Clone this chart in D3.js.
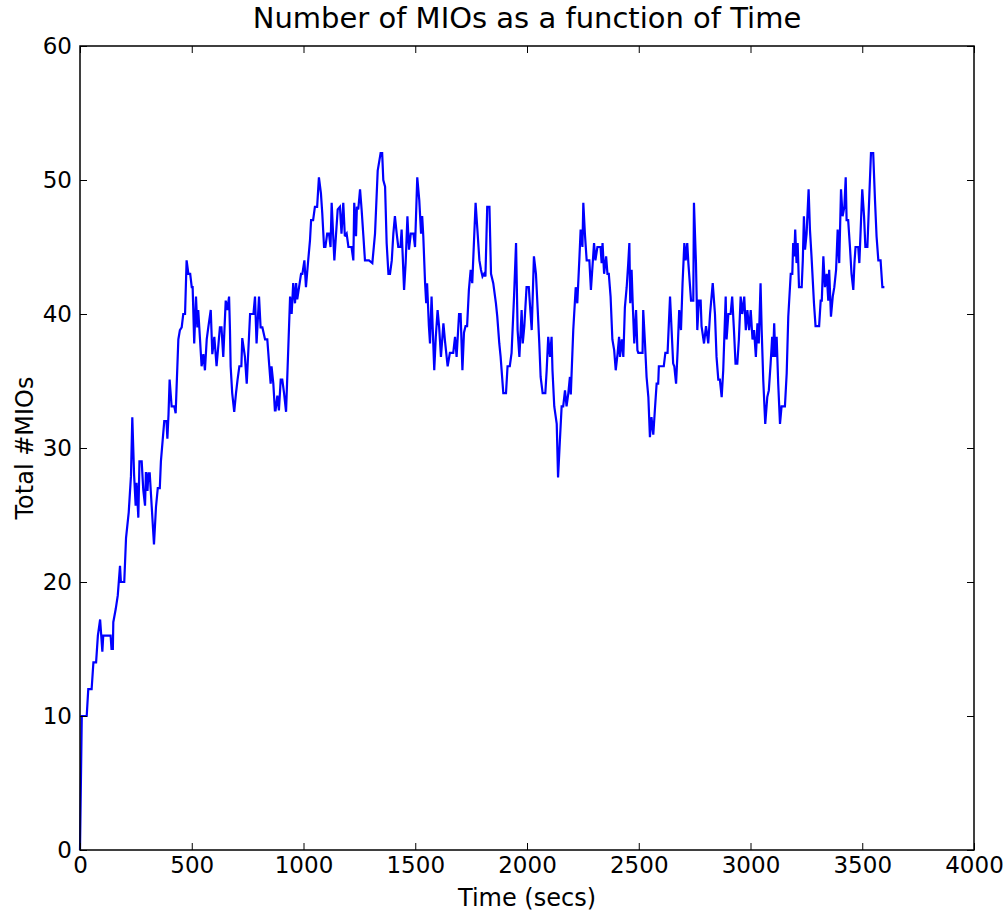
<!DOCTYPE html>
<html>
<head>
<meta charset="utf-8">
<script src="https://cdn.jsdelivr.net/npm/d3@7"></script>
<style>
  html, body { margin: 0; padding: 0; background: #fff; }
  svg { display: block; }
  text { font-family: "DejaVu Sans", Verdana, sans-serif; fill: #000; }
</style>
</head>
<body>
<svg id="chart" width="1008" height="913"></svg>
<script>
// Elapsed time of each sample, in seconds
const times = [
  0, 8, 30, 37, 52, 60, 72, 80, 90, 100, 104, 137, 141, 147, 149, 160, 169, 179, 183, 198,
  206, 218, 228, 234, 242, 249, 253, 261, 266, 276, 283, 291, 295, 302, 306, 312, 321, 331, 340, 348,
  357, 362, 370, 377, 387, 391, 396, 401, 410, 422, 428, 440, 447, 455, 462, 470, 477, 485, 493, 500,
  504, 511, 519, 525, 529, 537, 544, 552, 559, 567, 574, 585, 592, 601, 611, 626, 633, 641, 652, 659,
  667, 671, 674, 681, 690, 698, 705, 713, 722, 726, 738, 746, 761, 776, 783, 790, 801, 808, 816, 828,
  838, 847, 853, 857, 865, 872, 875, 883, 890, 898, 905, 913, 922, 940, 947, 954, 962, 967, 972, 981,
  989, 995, 1004, 1011, 1021, 1029, 1034, 1043, 1051, 1061, 1069, 1078, 1084, 1092, 1098, 1106, 1114, 1121, 1126, 1138,
  1145, 1153, 1163, 1170, 1178, 1185, 1193, 1201, 1215, 1223, 1227, 1235, 1239, 1245, 1253, 1260, 1268, 1275, 1293, 1308,
  1320, 1332, 1340, 1345, 1352, 1357, 1365, 1372, 1380, 1387, 1395, 1402, 1409, 1417, 1424, 1434, 1439, 1444, 1450, 1457,
  1465, 1472, 1480, 1492, 1499, 1509, 1518, 1526, 1531, 1536, 1544, 1549, 1553, 1561, 1566, 1573, 1578, 1585, 1592, 1600,
  1607, 1615, 1626, 1633, 1645, 1655, 1670, 1678, 1685, 1696, 1703, 1711, 1718, 1725, 1732, 1740, 1748, 1755, 1770, 1778,
  1787, 1794, 1801, 1808, 1814, 1822, 1832, 1839, 1849, 1861, 1867, 1876, 1882, 1894, 1906, 1913, 1923, 1931, 1942, 1951,
  1958, 1966, 1976, 1981, 1988, 1998, 2008, 2021, 2031, 2040, 2048, 2055, 2061, 2070, 2082, 2088, 2095, 2103, 2110, 2114,
  2122, 2133, 2139, 2147, 2155, 2162, 2170, 2177, 2185, 2192, 2196, 2207, 2218, 2225, 2234, 2240, 2248, 2252, 2259, 2267,
  2279, 2286, 2300, 2306, 2315, 2329, 2334, 2338, 2345, 2354, 2360, 2366, 2374, 2382, 2390, 2397, 2405, 2412, 2416, 2424,
  2431, 2438, 2446, 2453, 2458, 2462, 2468, 2473, 2480, 2488, 2494, 2498, 2517, 2520, 2528, 2535, 2543, 2550, 2557, 2565,
  2572, 2580, 2587, 2590, 2612, 2619, 2629, 2640, 2647, 2654, 2659, 2667, 2674, 2681, 2689, 2696, 2704, 2710, 2717, 2722,
  2734, 2744, 2747, 2756, 2762, 2769, 2777, 2781, 2792, 2801, 2811, 2819, 2831, 2841, 2848, 2856, 2863, 2871, 2878, 2889,
  2893, 2901, 2911, 2918, 2926, 2933, 2941, 2948, 2956, 2963, 2972, 2979, 2986, 2994, 3001, 3009, 3016, 3024, 3031, 3037,
  3045, 3050, 3057, 3066, 3075, 3082, 3090, 3097, 3101, 3106, 3111, 3117, 3124, 3132, 3139, 3154, 3162, 3169, 3180, 3187,
  3191, 3196, 3200, 3206, 3211, 3217, 3229, 3234, 3239, 3244, 3251, 3260, 3266, 3273, 3284, 3291, 3307, 3314, 3319, 3326,
  3333, 3341, 3348, 3352, 3360, 3368, 3375, 3383, 3390, 3397, 3405, 3412, 3420, 3426, 3430, 3437, 3445, 3452, 3460, 3465,
  3470, 3482, 3487, 3493, 3500, 3508, 3514, 3523, 3532, 3539, 3549, 3557, 3564, 3572, 3582, 3590, 3599
];

// Total number of MIOs at each sample
const mioCounts = [
  0, 10, 10, 12, 12, 14, 14, 16, 17.2, 14.8, 16, 16, 15, 15, 17, 18, 19, 21.2, 20, 20,
  23.3, 25.2, 27.9, 32.3, 28, 25.7, 27.4, 24.8, 29, 29, 26.9, 25.7, 28.2, 26.8, 28.1, 28.1, 25.6, 22.8, 25.6, 27,
  27, 29, 30.6, 32, 32, 30.7, 32.5, 35.1, 33.1, 33.1, 32.6, 38.1, 38.8, 39, 40, 40, 44, 43, 43, 42,
  42, 37.8, 41.3, 39, 40.3, 38.1, 36.1, 37, 35.8, 38.1, 39, 40.3, 37, 38.3, 36.1, 39, 39, 36.8, 41, 40.3,
  41.3, 38.8, 36.1, 34.1, 32.7, 34.1, 35.1, 36.1, 36.1, 38.2, 36.8, 34.8, 40, 40, 41.3, 37.8, 41.3, 39, 39, 38.1,
  38.1, 36.1, 34.8, 36.1, 34.8, 32.8, 32.8, 33.9, 32.8, 35.1, 35.1, 34.1, 32.7, 41.3, 40, 42.3, 40.8, 42.3, 41.1, 42.1,
  43, 43, 44, 42, 44, 45.5, 47, 47, 48, 48, 50.2, 49, 47.5, 45, 45, 46, 46, 45, 48.3, 44,
  45.8, 47.8, 48, 46, 48.3, 45.8, 46, 45, 45, 44, 48.3, 45.8, 48, 47.8, 49.3, 47.8, 45.8, 44, 44, 43.8,
  46, 50.7, 51.5, 52, 52, 50, 49.5, 45.3, 43, 43, 44, 46, 47.3, 46, 45, 45, 46.3, 44.3, 41.8, 43.8,
  47.3, 44.8, 46, 46, 45, 50.2, 48.5, 46, 47.3, 45.8, 42.3, 40.8, 42.3, 39.1, 37.8, 41.3, 39, 35.8, 38.3, 40.3,
  39, 36.8, 39.3, 38, 36.1, 37.1, 37.1, 38.3, 36.8, 40, 40, 35.8, 38.6, 39.1, 39.1, 41.8, 43.3, 42.3, 48.3, 46.3,
  44, 43.3, 42.8, 43, 42.8, 48, 48, 43, 42.3, 40.8, 39.8, 37.8, 36.8, 34.1, 34.1, 36.1, 36.1, 37.1, 41.3, 45.3,
  38.8, 36.8, 40.3, 37.8, 39.1, 42, 42, 38.8, 44.3, 43, 40.3, 37.8, 35.3, 34.1, 34.1, 35.8, 38.3, 36.8, 38.3, 35.8,
  33.1, 31.8, 27.8, 30.5, 33.1, 33.1, 34.3, 33.1, 34.1, 35.3, 34, 38.8, 42, 40.8, 44, 46.3, 45, 48.3, 46, 44,
  44, 41.8, 45.3, 44, 45, 45, 43.8, 45.3, 43, 44.3, 43, 43, 41.3, 38.1, 37.3, 35.8, 37, 38.3, 36.8, 38.1,
  36.8, 40.5, 42, 43.8, 45.3, 40.8, 43.3, 40.8, 37.8, 40.3, 37.3, 37.1, 37.1, 40.3, 37.8, 35.3, 33.8, 30.8, 32.3, 31,
  32.8, 34.8, 34.8, 36.1, 36.1, 37.1, 37.1, 41.3, 38.8, 36.3, 36.1, 34.8, 37.3, 40.3, 38.8, 42.3, 45.3, 44, 45.3, 43.8,
  41, 41, 48.3, 43.8, 38.8, 41, 41, 39.1, 37.8, 39.1, 37.8, 40, 42.3, 40, 36.8, 35.1, 35.1, 33.8, 35.8, 41.3,
  38.1, 40, 40, 41.3, 38.8, 36.3, 36.3, 38.1, 41.3, 40, 41.3, 38.8, 40.3, 38.8, 40.3, 38.1, 38.8, 36.8, 39.3, 37.8,
  42.3, 38.8, 35.1, 31.8, 33.8, 34.3, 36.3, 38.3, 36.8, 39.3, 36.8, 38.3, 34.8, 31.8, 33.1, 33.1, 35.6, 39.8, 43, 43,
  45.3, 44.3, 46.3, 43.8, 45.3, 42, 42, 44, 47.3, 44.8, 46, 49.3, 46.3, 44.3, 40.8, 39.1, 39.1, 41, 41, 44.3,
  42, 43, 41, 43.3, 39.8, 41.3, 42, 43.3, 46.3, 43.8, 49.3, 47.3, 48, 50.2, 47, 47, 45, 43, 41.8, 43.8,
  45, 45, 43.8, 46.3, 49.3, 47.3, 45, 45, 49, 52, 52, 48.5, 45.8, 44, 44, 42, 42
];

const xTickValues = [0, 500, 1000, 1500, 2000, 2500, 3000, 3500, 4000];
const yTickValues = [0, 10, 20, 30, 40, 50, 60];

const chartTitle = "Number of MIOs as a function of Time";
const xAxisLabel = "Time (secs)";
const yAxisLabel = "Total #MIOs";

const svg = d3.select("#chart");
const margin = { left: 80, right: 34, top: 46, bottom: 63 };
const W = 1008, H = 913;
const plotW = W - margin.left - margin.right;
const plotH = H - margin.top - margin.bottom;

const x = d3.scaleLinear().domain([0, 4000]).range([margin.left, margin.left + plotW]);
const y = d3.scaleLinear().domain([0, 60]).range([margin.top + plotH, margin.top]);

const tickLen = 7;

// Data line
const series = times.map((t, i) => [t, mioCounts[i]]);
const line = d3.line().x(d => x(d[0])).y(d => y(d[1]));

svg.append("path")
  .datum(series)
  .attr("d", line)
  .attr("fill", "none")
  .attr("stroke", "#0000ff")
  .attr("stroke-width", 2.2)
  .attr("stroke-linejoin", "miter")
  .attr("stroke-miterlimit", 3);

// Axes with inward ticks on all four sides
function styleAxis(g) {
  g.select(".domain").remove();
  g.selectAll(".tick line").attr("stroke", "#000").attr("stroke-width", 1);
  g.selectAll(".tick text").attr("fill", "#000");
}

const bottomAxis = svg.append("g")
  .attr("transform", `translate(0,${y(0)})`)
  .call(d3.axisBottom(x).tickValues(xTickValues).tickFormat(d3.format("d"))
    .tickSizeInner(-tickLen).tickSizeOuter(0).tickPadding(7));
styleAxis(bottomAxis);
bottomAxis.selectAll(".tick text").style("font-size", "23px");

const topAxis = svg.append("g")
  .attr("transform", `translate(0,${y(60)})`)
  .call(d3.axisTop(x).tickValues(xTickValues).tickFormat("")
    .tickSizeInner(-tickLen).tickSizeOuter(0));
styleAxis(topAxis);

const leftAxis = svg.append("g")
  .attr("transform", `translate(${x(0)},0)`)
  .call(d3.axisLeft(y).tickValues(yTickValues).tickFormat(d3.format("d"))
    .tickSizeInner(-tickLen).tickSizeOuter(0).tickPadding(8));
styleAxis(leftAxis);
leftAxis.selectAll(".tick text").style("font-size", "23px");

const rightAxis = svg.append("g")
  .attr("transform", `translate(${x(4000)},0)`)
  .call(d3.axisRight(y).tickValues(yTickValues).tickFormat("")
    .tickSizeInner(-tickLen).tickSizeOuter(0));
styleAxis(rightAxis);

// Plot frame
svg.append("rect")
  .attr("x", x(0)).attr("y", y(60))
  .attr("width", x(4000) - x(0)).attr("height", y(0) - y(60))
  .attr("fill", "none").attr("stroke", "#000").attr("stroke-width", 1.5);

// Title and axis labels
svg.append("text")
  .attr("x", (x(0) + x(4000)) / 2).attr("y", 28)
  .attr("text-anchor", "middle")
  .style("font-size", "29px")
  .text(chartTitle);

svg.append("text")
  .attr("x", (x(0) + x(4000)) / 2).attr("y", 906)
  .attr("text-anchor", "middle")
  .style("font-size", "24px")
  .text(xAxisLabel);

svg.append("text")
  .attr("transform", `translate(33,${(y(0) + y(60)) / 2}) rotate(-90)`)
  .attr("text-anchor", "middle")
  .style("font-size", "24px")
  .text(yAxisLabel);
</script>
</body>
</html>
